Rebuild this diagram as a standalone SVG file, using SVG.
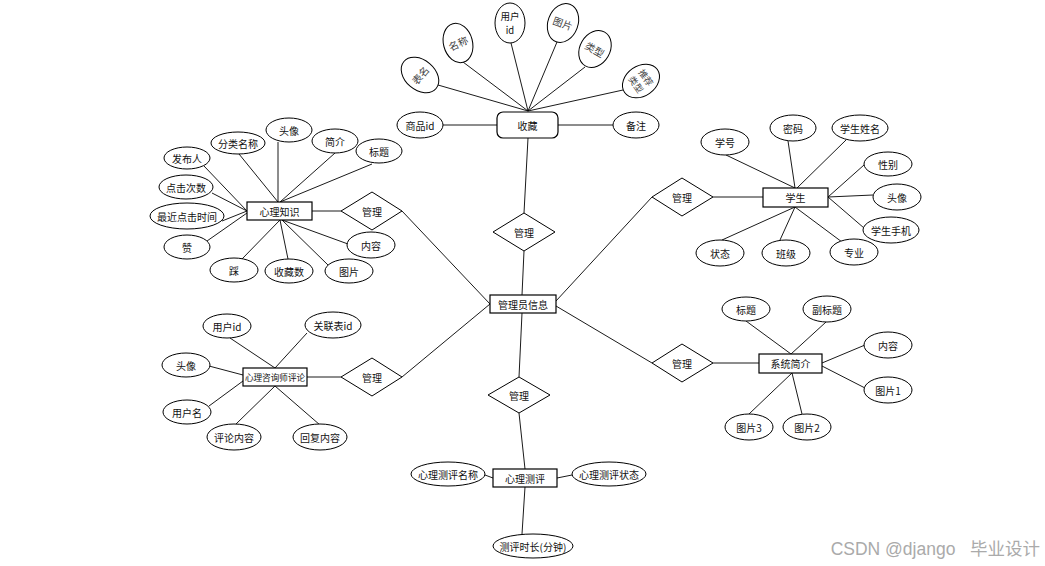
<svg xmlns="http://www.w3.org/2000/svg" width="1045" height="566" viewBox="0 0 1045 566">
<style>
rect.e{fill:#fff;stroke:#000;stroke-width:1.2}
ellipse{fill:#fff;stroke:#000;stroke-width:1}
polygon{fill:#fff;stroke:#000;stroke-width:1}
#connectors line{stroke:#000;stroke-width:0.9}
text{font-family:"Noto Sans CJK SC","Liberation Sans",sans-serif;font-size:10px;fill:#111;text-anchor:middle;dominant-baseline:central}
text.g{fill:#444}
text.wm{font-family:"Liberation Sans","Noto Sans CJK SC",sans-serif;font-size:17.5px;fill:#aaa;text-anchor:end}
</style>
<rect width="1045" height="566" fill="#fff"/>
<g id="connectors">
<!-- 收藏 -->
<line x1="438" y1="85" x2="528" y2="111"/>
<line x1="463" y1="62" x2="528" y2="111"/>
<line x1="511" y1="43" x2="528" y2="111"/>
<line x1="557" y1="42" x2="528" y2="111"/>
<line x1="585" y1="67" x2="528" y2="111"/>
<line x1="623" y1="90" x2="528" y2="111"/>
<line x1="443" y1="125" x2="497" y2="125"/>
<line x1="558" y1="125" x2="613" y2="125"/>
<line x1="528" y1="138" x2="524" y2="213"/>
<line x1="524" y1="251" x2="522" y2="295"/>
<!-- 心理知识 -->
<line x1="239" y1="154" x2="278" y2="202"/>
<line x1="278" y1="142" x2="278" y2="202"/>
<line x1="335" y1="153" x2="280" y2="202"/>
<line x1="372" y1="164" x2="280" y2="202"/>
<line x1="204" y1="166" x2="247" y2="211"/>
<line x1="212" y1="193" x2="247" y2="211"/>
<line x1="222" y1="221" x2="247" y2="211"/>
<line x1="207" y1="241" x2="247" y2="213"/>
<line x1="242" y1="259" x2="280" y2="220"/>
<line x1="288" y1="259" x2="280" y2="220"/>
<line x1="328" y1="265" x2="282" y2="220"/>
<line x1="348" y1="244" x2="282" y2="220"/>
<line x1="312" y1="211" x2="341" y2="211"/>
<line x1="402" y1="211" x2="490" y2="304"/>
<!-- 心理咨询师评论 -->
<line x1="230" y1="338" x2="275" y2="368"/>
<line x1="307" y1="333" x2="275" y2="368"/>
<line x1="209" y1="366" x2="243" y2="375"/>
<line x1="209" y1="406" x2="243" y2="381"/>
<line x1="236" y1="424" x2="275" y2="386"/>
<line x1="320" y1="425" x2="275" y2="386"/>
<line x1="307" y1="377" x2="341" y2="377"/>
<line x1="402" y1="377" x2="490" y2="304"/>
<!-- 学生 -->
<line x1="556" y1="301" x2="652" y2="197"/>
<line x1="713" y1="197" x2="763" y2="197"/>
<line x1="726" y1="155" x2="795" y2="188"/>
<line x1="788" y1="141" x2="795" y2="188"/>
<line x1="846" y1="140" x2="797" y2="188"/>
<line x1="864" y1="165" x2="828" y2="197"/>
<line x1="873" y1="195" x2="828" y2="197"/>
<line x1="864" y1="228" x2="828" y2="197"/>
<line x1="722" y1="240" x2="795" y2="207"/>
<line x1="780" y1="240" x2="795" y2="207"/>
<line x1="842" y1="242" x2="795" y2="207"/>
<!-- 系统简介 -->
<line x1="556" y1="306" x2="652" y2="363"/>
<line x1="713" y1="363" x2="759" y2="363"/>
<line x1="746" y1="321" x2="791" y2="354"/>
<line x1="826" y1="322" x2="791" y2="354"/>
<line x1="865" y1="345" x2="822" y2="363"/>
<line x1="865" y1="388" x2="822" y2="366"/>
<line x1="749" y1="414" x2="792" y2="373"/>
<line x1="802" y1="414" x2="792" y2="373"/>
<!-- 心理测评 -->
<line x1="522" y1="313" x2="519" y2="377"/>
<line x1="519" y1="413" x2="525" y2="469"/>
<line x1="485" y1="475" x2="493" y2="478"/>
<line x1="557" y1="478" x2="572" y2="475"/>
<line x1="525" y1="487" x2="522" y2="534"/>
</g>

<g id="admin"><rect class="e" x="490" y="295" width="66" height="18"/><text x="523" y="304">管理员信息</text></g>

<g id="shoucang">
<rect class="e" x="497" y="112" width="61" height="26" rx="6"/><text x="527.5" y="125">收藏</text>
</g>
<g id="sc-biaoming"><ellipse cx="420" cy="75" rx="15" ry="21" transform="rotate(-50 420 75)"/><text class="g" x="420" y="75" transform="rotate(-50 420 75)">表名</text></g>
<g id="sc-mingcheng"><ellipse cx="458" cy="43" rx="14.5" ry="20" transform="rotate(-15 458 43)"/><text class="g" x="458" y="43" transform="rotate(-25 458 43)">名称</text></g>
<g id="sc-yonghuid"><ellipse cx="510" cy="23" rx="15" ry="20"/><text x="510" y="16" style="font-size:9.5px">用户</text><text x="510" y="30" style="font-size:9.5px">id</text></g>
<g id="sc-tupian"><ellipse cx="563" cy="23" rx="15" ry="20" transform="rotate(20 563 23)"/><text class="g" x="563" y="23" transform="rotate(20 563 23)">图片</text></g>
<g id="sc-leixing"><ellipse cx="595" cy="49" rx="15" ry="19.5" transform="rotate(30 595 49)"/><text class="g" x="595" y="49" transform="rotate(30 595 49)">类型</text></g>
<g id="sc-tuijian"><ellipse cx="641" cy="81" rx="15" ry="20" transform="rotate(55 641 81)"/><text class="g" x="641" y="75" transform="rotate(55 641 81)" style="font-size:9px">推荐</text><text class="g" x="641" y="87" transform="rotate(55 641 81)" style="font-size:9px">类型</text></g>
<g id="sc-shangpinid"><ellipse cx="420" cy="125" rx="23" ry="13"/><text x="420" y="125">商品id</text></g>
<g id="sc-beizhu"><ellipse cx="636" cy="125" rx="23" ry="13"/><text x="636" y="125">备注</text></g>

<g id="d-top"><polygon points="524,213 555,232 524,251 493,232"/><text x="524" y="232">管理</text></g>
<g id="d-lt"><polygon points="372,192 402,211 372,230 341,211"/><text x="372" y="211">管理</text></g>
<g id="d-lb"><polygon points="372,358 402,377 372,396 341,377"/><text x="372" y="377">管理</text></g>
<g id="d-rt"><polygon points="682,178 713,197 682,216 652,197"/><text x="682" y="197">管理</text></g>
<g id="d-rb"><polygon points="682,344 713,363 682,382 652,363"/><text x="682" y="363">管理</text></g>
<g id="d-bot"><polygon points="519,377 550,395 519,413 488,395"/><text x="519" y="395">管理</text></g>

<g id="xinlizhishi"><rect class="e" x="247" y="202" width="65" height="18"/><text x="279.5" y="211">心理知识</text></g>
<g id="zs-fenlei"><ellipse cx="238" cy="143" rx="27" ry="11"/><text x="238" y="143">分类名称</text></g>
<g id="zs-touxiang"><ellipse cx="289" cy="130" rx="23" ry="12"/><text x="289" y="130">头像</text></g>
<g id="zs-jianjie"><ellipse cx="335" cy="141" rx="23" ry="12"/><text x="335" y="141">简介</text></g>
<g id="zs-biaoti"><ellipse cx="379" cy="151" rx="23" ry="12"/><text x="379" y="151">标题</text></g>
<g id="zs-faburen"><ellipse cx="187" cy="158" rx="23" ry="11"/><text x="187" y="158">发布人</text></g>
<g id="zs-dianji"><ellipse cx="186" cy="187" rx="27" ry="12"/><text x="186" y="187">点击次数</text></g>
<g id="zs-zuijin"><ellipse cx="187" cy="216" rx="37" ry="13"/><text x="187" y="216">最近点击时间</text></g>
<g id="zs-zan"><ellipse cx="187" cy="247" rx="23" ry="12"/><text x="187" y="247">赞</text></g>
<g id="zs-cai"><ellipse cx="234" cy="270" rx="24" ry="12"/><text x="234" y="270">踩</text></g>
<g id="zs-shoucangshu"><ellipse cx="289" cy="271" rx="24" ry="12"/><text x="289" y="271">收藏数</text></g>
<g id="zs-tupian"><ellipse cx="349" cy="271" rx="24" ry="12"/><text x="349" y="271">图片</text></g>
<g id="zs-neirong"><ellipse cx="371" cy="245" rx="24" ry="13"/><text x="371" y="245">内容</text></g>

<g id="pinglun"><rect class="e" x="243" y="368" width="64" height="18" stroke-width="1.6"/><text x="275" y="377" style="font-size:8.6px">心理咨询师评论</text></g>
<g id="pl-yonghuid"><ellipse cx="227" cy="326" rx="24" ry="12"/><text x="227" y="326">用户id</text></g>
<g id="pl-guanlian"><ellipse cx="333" cy="325" rx="28" ry="13"/><text x="333" y="325">关联表id</text></g>
<g id="pl-touxiang"><ellipse cx="186" cy="365" rx="24" ry="12"/><text x="186" y="365">头像</text></g>
<g id="pl-yonghuming"><ellipse cx="187" cy="412" rx="24" ry="12"/><text x="187" y="412">用户名</text></g>
<g id="pl-pinglun"><ellipse cx="234" cy="437" rx="27" ry="13"/><text x="234" y="437">评论内容</text></g>
<g id="pl-huifu"><ellipse cx="320" cy="437" rx="27" ry="13"/><text x="320" y="437">回复内容</text></g>

<g id="xuesheng"><rect class="e" x="763" y="188" width="65" height="19"/><text x="795.5" y="197.5">学生</text></g>
<g id="xs-xuehao"><ellipse cx="725" cy="142" rx="24" ry="13"/><text x="725" y="142">学号</text></g>
<g id="xs-mima"><ellipse cx="793" cy="128" rx="23" ry="13"/><text x="793" y="128">密码</text></g>
<g id="xs-xingming"><ellipse cx="860" cy="128" rx="28" ry="13"/><text x="860" y="128">学生姓名</text></g>
<g id="xs-xingbie"><ellipse cx="888" cy="164" rx="24" ry="12"/><text x="888" y="164">性别</text></g>
<g id="xs-touxiang"><ellipse cx="897" cy="197" rx="24" ry="13"/><text x="897" y="197">头像</text></g>
<g id="xs-shouji"><ellipse cx="891" cy="230" rx="28" ry="13"/><text x="891" y="230">学生手机</text></g>
<g id="xs-zhuangtai"><ellipse cx="720" cy="253" rx="24" ry="13"/><text x="720" y="253">状态</text></g>
<g id="xs-banji"><ellipse cx="786" cy="253" rx="24" ry="13"/><text x="786" y="253">班级</text></g>
<g id="xs-zhuanye"><ellipse cx="854" cy="252" rx="24" ry="13"/><text x="854" y="252">专业</text></g>

<g id="xitong"><rect class="e" x="759" y="354" width="63" height="19"/><text x="790.5" y="363.5">系统简介</text></g>
<g id="xt-biaoti"><ellipse cx="746" cy="309" rx="24" ry="12"/><text x="746" y="309">标题</text></g>
<g id="xt-fubiaoti"><ellipse cx="827" cy="309" rx="24" ry="13"/><text x="827" y="309">副标题</text></g>
<g id="xt-neirong"><ellipse cx="888" cy="345" rx="24" ry="13"/><text x="888" y="345">内容</text></g>
<g id="xt-tupian1"><ellipse cx="888" cy="390" rx="24" ry="13"/><text x="888" y="390">图片1</text></g>
<g id="xt-tupian3"><ellipse cx="749" cy="427" rx="24" ry="13"/><text x="749" y="427">图片3</text></g>
<g id="xt-tupian2"><ellipse cx="807" cy="427" rx="24" ry="13"/><text x="807" y="427">图片2</text></g>

<g id="ceping"><rect class="e" x="493" y="469" width="64" height="18"/><text x="525" y="478">心理测评</text></g>
<g id="cp-mingcheng"><ellipse cx="448" cy="474" rx="37" ry="12"/><text x="448" y="474">心理测评名称</text></g>
<g id="cp-zhuangtai"><ellipse cx="609" cy="474" rx="37" ry="12"/><text x="609" y="474">心理测评状态</text></g>
<g id="cp-shichang"><ellipse cx="533" cy="546" rx="40" ry="12"/><text x="533" y="546">测评时长(分钟)</text></g>

<text class="wm" x="1040" y="549" xml:space="preserve">CSDN @django   毕业设计</text>
</svg>
